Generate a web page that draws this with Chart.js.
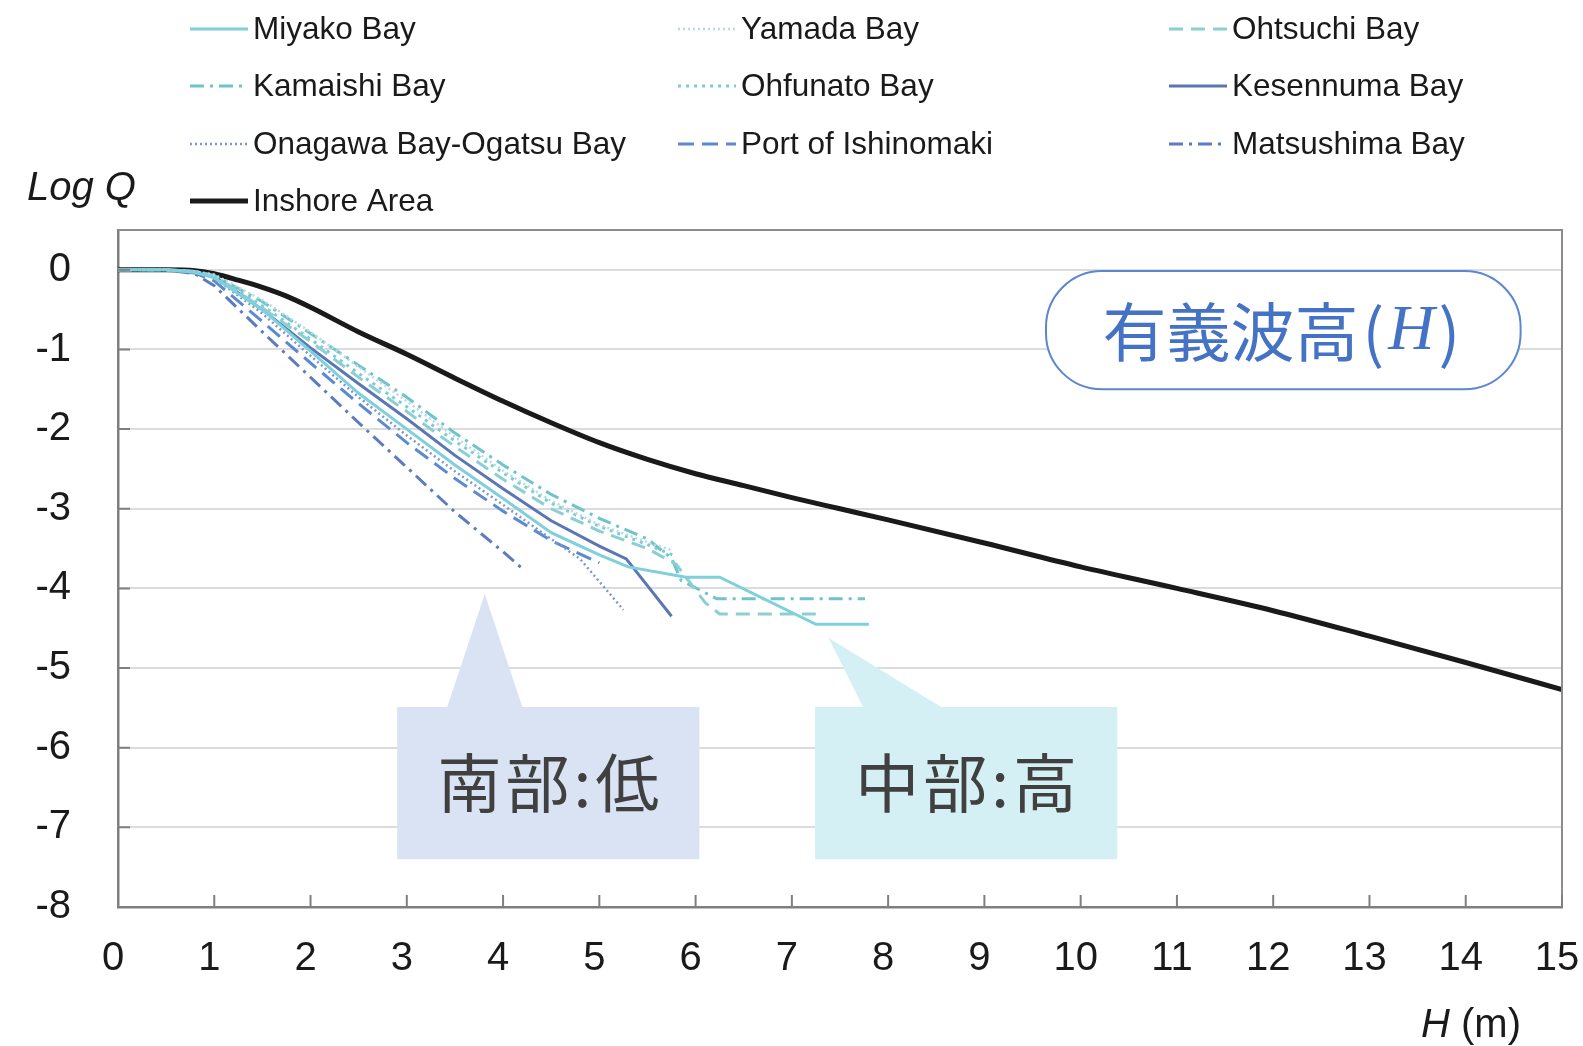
<!DOCTYPE html>
<html>
<head>
<meta charset="utf-8">
<script src="https://cdn.jsdelivr.net/npm/chart.js@4.4.1/dist/chart.umd.min.js"></script>
<style>
  html, body { margin: 0; padding: 0; background: #fff; }
  canvas { display: block; }
</style>
</head>
<body>
<canvas id="myChart" width="1583" height="1046"></canvas>
<script>
// [H (m), Log Q] for each bay and the inshore area
const miyako = [[0,0],[0.5,0],[0.8,-0.03],[1,-0.1],[1.5,-0.5],[2,-1.02],[2.5,-1.55],[3,-2.0],[3.5,-2.45],[4,-2.87],[4.5,-3.3],[5,-3.58],[5.3,-3.73],[5.9,-3.86],[6.25,-3.86],[7.25,-4.45],[7.8,-4.45]];
const yamada = [[0,0],[0.5,0],[0.8,-0.02],[1,-0.06],[1.5,-0.38],[2,-0.78],[2.5,-1.22],[3,-1.65],[3.5,-2.1],[4,-2.52],[4.5,-2.9],[5,-3.2],[5.5,-3.42],[5.75,-3.52]];
const ohtsuchi = [[0,0],[0.5,0],[0.8,-0.02],[1,-0.08],[1.5,-0.48],[2,-0.9],[2.5,-1.35],[3,-1.78],[3.5,-2.22],[4,-2.63],[4.5,-3.0],[5,-3.28],[5.5,-3.5],[5.8,-3.7],[6.1,-4.18],[6.25,-4.32],[7.25,-4.32]];
const kamaishi = [[0,0],[0.5,0],[0.8,-0.02],[1,-0.07],[1.5,-0.4],[2,-0.8],[2.5,-1.2],[3,-1.6],[3.5,-2.05],[4,-2.45],[4.5,-2.82],[5,-3.12],[5.5,-3.38],[5.75,-3.62],[5.85,-3.9],[6.22,-4.13],[7.76,-4.13]];
const ohfunato = [[0,0],[0.5,0],[0.8,-0.02],[1,-0.08],[1.5,-0.45],[2,-0.87],[2.5,-1.3],[3,-1.72],[3.5,-2.15],[4,-2.55],[4.5,-2.93],[5,-3.22],[5.5,-3.45],[5.8,-3.6]];
const kesennuma = [[0,0],[0.5,0],[0.8,-0.02],[1,-0.08],[1.5,-0.5],[2,-0.98],[2.5,-1.43],[3,-1.87],[3.5,-2.33],[4,-2.75],[4.5,-3.15],[5,-3.47],[5.28,-3.63],[5.75,-4.35]];
const onagawa = [[0,0],[0.5,0],[0.8,-0.03],[1,-0.1],[1.5,-0.55],[2,-1.08],[2.5,-1.6],[3,-2.08],[3.5,-2.53],[4,-2.95],[4.5,-3.38],[4.8,-3.63],[5.25,-4.27]];
const ishinomaki = [[0,0],[0.5,0],[0.8,-0.04],[1,-0.14],[1.5,-0.65],[2,-1.17],[2.5,-1.68],[3,-2.17],[3.5,-2.62],[4,-3.03],[4.5,-3.4],[5,-3.68]];
const matsushima = [[0,0],[0.5,0],[0.8,-0.05],[1,-0.2],[1.5,-0.78],[2,-1.35],[2.5,-1.92],[3,-2.48],[3.5,-3.04],[4,-3.54],[4.2,-3.75]];
const inshore = [[0,0],[0.5,0],[0.8,-0.01],[1,-0.05],[1.25,-0.13],[1.5,-0.22],[1.75,-0.33],[2,-0.47],[2.5,-0.78],[3,-1.06],[3.5,-1.36],[4,-1.65],[4.5,-1.92],[5,-2.17],[5.5,-2.38],[6,-2.56],[6.5,-2.71],[7,-2.86],[7.5,-3.0],[8,-3.14],[9,-3.43],[10,-3.73],[11,-4.0],[12,-4.28],[13,-4.6],[14,-4.93],[15,-5.27]];

const labels = ['Miyako Bay', 'Yamada Bay', 'Ohtsuchi Bay', 'Kamaishi Bay', 'Ohfunato Bay', 'Kesennuma Bay',
  'Onagawa Bay-Ogatsu Bay', 'Port of Ishinomaki', 'Matsushima Bay', 'Inshore Area'];
const seriesData = [miyako, yamada, ohtsuchi, kamaishi, ohfunato, kesennuma, onagawa, ishinomaki, matsushima, inshore];

const xTicks = [0,1,2,3,4,5,6,7,8,9,10,11,12,13,14,15];
const yTicks = [0,-1,-2,-3,-4,-5,-6,-7,-8];

// line looks, same order as labels
const looks = [
  { color: '#7fd0da', dash: [], width: 3 },
  { color: '#b6dbe3', dash: [2, 3], width: 2.5 },
  { color: '#8ccfd2', dash: [14, 8], width: 3 },
  { color: '#6fc3cc', dash: [14, 6, 3, 6], width: 3 },
  { color: '#79cdd6', dash: [3, 5], width: 3 },
  { color: '#5b77b3', dash: [], width: 3 },
  { color: '#7b98d0', dash: [2, 3], width: 2.5 },
  { color: '#5b8ad0', dash: [16, 8], width: 3 },
  { color: '#5d7cc0', dash: [14, 6, 3, 6], width: 3 },
  { color: '#1a1a1a', dash: [], width: 5 }
];

const sans = '"Liberation Sans", Arial, sans-serif';
const cjk = '"Noto Sans CJK JP", "Noto Sans CJK SC", sans-serif';

const datasets = seriesData.map((pts, i) => ({
  label: labels[i],
  data: pts.map(p => ({ x: p[0], y: p[1] })),
  borderColor: looks[i].color,
  borderDash: looks[i].dash,
  borderWidth: looks[i].width,
  cubicInterpolationMode: i === 9 ? 'monotone' : 'default',
  pointRadius: 0,
  fill: false
}));

// callouts, placed in data units
const callouts = [
  { text: '南部:低', fill: '#dae3f3', x0: 2.9, x1: 6.04, y0: -5.49, y1: -7.4, base: [3.42, 4.2], tip: [3.81, -4.07] },
  { text: '中部:高', fill: '#d4f0f4', x0: 7.24, x1: 10.38, y0: -5.49, y1: -7.4, base: [7.74, 8.55], tip: [7.38, -4.62] }
];
const pill = { x0: 9.64, x1: 14.57, y0: -0.015, y1: -1.5 };

const decorations = {
  id: 'decorations',
  afterDatasetsDraw(chart) {
    const { ctx, scales: { x, y } } = chart;
    ctx.save();
    callouts.forEach(c => {
      const l = x.getPixelForValue(c.x0), r = x.getPixelForValue(c.x1);
      const t = y.getPixelForValue(c.y0), b = y.getPixelForValue(c.y1);
      ctx.fillStyle = c.fill;
      ctx.beginPath();
      ctx.moveTo(l, t);
      ctx.lineTo(x.getPixelForValue(c.base[0]), t);
      ctx.lineTo(x.getPixelForValue(c.tip[0]), y.getPixelForValue(c.tip[1]));
      ctx.lineTo(x.getPixelForValue(c.base[1]), t);
      ctx.lineTo(r, t);
      ctx.lineTo(r, b);
      ctx.lineTo(l, b);
      ctx.closePath();
      ctx.fill();
      ctx.fillStyle = '#404040';
      ctx.font = '64px ' + cjk;
      ctx.letterSpacing = '4px';
      ctx.textAlign = 'center';
      ctx.textBaseline = 'middle';
      ctx.fillText(c.text, (l + r) / 2 + 2, (t + b) / 2);
      ctx.letterSpacing = '0px';
    });

    // significant wave height label
    const pl = x.getPixelForValue(pill.x0), pr = x.getPixelForValue(pill.x1);
    const pt = y.getPixelForValue(pill.y0), pb = y.getPixelForValue(pill.y1);
    ctx.fillStyle = '#fff';
    ctx.strokeStyle = '#5b87cf';
    ctx.lineWidth = 2;
    ctx.beginPath();
    ctx.roundRect(pl, pt, pr - pl, pb - pt, 56);
    ctx.fill();
    ctx.stroke();
    const parts = [
      { s: '有義波高', f: '64px ' + cjk },
      { s: '(', f: '64px ' + cjk },
      { s: 'H', f: 'italic 64px "Liberation Serif", serif' },
      { s: ')', f: '64px ' + cjk }
    ];
    let total = 0;
    parts.forEach(p => { ctx.font = p.f; p.w = ctx.measureText(p.s).width + 4; total += p.w; });
    let cx = (pl + pr) / 2 - total / 2;
    const cy = (pt + pb) / 2;
    ctx.fillStyle = '#4472c4';
    ctx.textAlign = 'left';
    ctx.textBaseline = 'middle';
    parts.forEach(p => { ctx.font = p.f; ctx.fillText(p.s, cx, cy + 2); cx += p.w; });
    ctx.restore();
  },
  afterDraw(chart) {
    const { ctx, chartArea: a, scales: { x, y } } = chart;
    ctx.save();
    // top and right frame
    ctx.strokeStyle = '#8c8c8c';
    ctx.lineWidth = 2;
    ctx.beginPath();
    ctx.moveTo(a.left, a.top);
    ctx.lineTo(a.right, a.top);
    ctx.lineTo(a.right, a.bottom);
    ctx.stroke();
    // short tick marks pointing into the plot
    ctx.strokeStyle = '#7f7f7f';
    ctx.beginPath();
    yTicks.forEach(v => {
      const py = y.getPixelForValue(v);
      ctx.moveTo(a.left, py);
      ctx.lineTo(a.left + 12, py);
    });
    xTicks.forEach(v => {
      const px = x.getPixelForValue(v);
      ctx.moveTo(px, a.bottom);
      ctx.lineTo(px, a.bottom - 12);
    });
    ctx.stroke();

    // axis titles
    ctx.fillStyle = '#1a1a1a';
    ctx.textAlign = 'left';
    ctx.textBaseline = 'alphabetic';
    ctx.font = 'italic 40px ' + sans;
    ctx.fillText('Log Q', 27, 200);
    ctx.fillText('H', 1421, 1037);
    const hw = ctx.measureText('H').width;
    ctx.font = '40px ' + sans;
    ctx.fillText(' (m)', 1421 + hw, 1037);

    // legend, three columns
    const cols = [190, 678, 1169];
    const rows = [29, 86, 144, 201];
    ctx.font = '31.5px ' + sans;
    ctx.textBaseline = 'middle';
    chart.data.datasets.forEach((ds, i) => {
      const lx = cols[i % 3], ly = rows[Math.floor(i / 3)];
      ctx.strokeStyle = ds.borderColor;
      ctx.lineWidth = ds.borderWidth;
      ctx.setLineDash(ds.borderDash);
      ctx.beginPath();
      ctx.moveTo(lx, ly);
      ctx.lineTo(lx + 58, ly);
      ctx.stroke();
      ctx.setLineDash([]);
      ctx.fillStyle = '#1a1a1a';
      ctx.fillText(ds.label, lx + 63, ly + 1);
    });
    ctx.restore();
  }
};

const ctx = document.getElementById('myChart').getContext('2d');
const myChart = new Chart(ctx, {
  type: 'line',
  data: { datasets: datasets },
  options: {
    responsive: false,
    animation: false,
    devicePixelRatio: 1,
    layout: { padding: { top: 230, right: 21, left: 0, bottom: 0 } },
    plugins: { legend: { display: false }, tooltip: { enabled: false } },
    elements: { line: { tension: 0 } },
    scales: {
      x: {
        type: 'linear',
        min: 0,
        max: 15,
        afterBuildTicks: s => { s.ticks = xTicks.map(v => ({ value: v })); },
        afterFit: s => { s.height = 139; s.paddingLeft = 0; s.paddingRight = 0; },
        grid: { display: false, drawTicks: false },
        border: { color: '#7f7f7f', width: 2.5 },
        ticks: { padding: 28, labelOffset: -5, color: '#1a1a1a', maxRotation: 0, autoSkip: false, font: { family: sans, size: 40 } }
      },
      y: {
        type: 'linear',
        min: -8,
        max: 0.5,
        afterBuildTicks: s => { s.ticks = yTicks.map(v => ({ value: v })); },
        afterFit: s => { s.width = 118; s.paddingTop = 0; s.paddingBottom = 0; },
        grid: { color: '#dcdcdc', lineWidth: 2, drawTicks: false },
        border: { color: '#7f7f7f', width: 2.5 },
        ticks: { padding: 47, color: '#1a1a1a', autoSkip: false, font: { family: sans, size: 40 } }
      }
    }
  },
  plugins: [decorations]
});
</script>
</body>
</html>
